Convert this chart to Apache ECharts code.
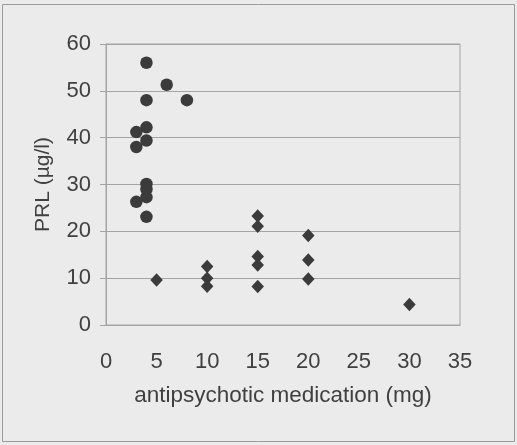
<!DOCTYPE html>
<html>
<head>
<meta charset="utf-8">
<script src="https://cdn.jsdelivr.net/npm/echarts@6/dist/echarts.min.js"></script>
<style>
  html, body { margin: 0; padding: 0; background: #ebebeb; }
  #chart { width: 517px; height: 445px; }
</style>
</head>
<body>
<div id="chart"></div>
<script>
// Group drawn with round markers: dose (mg) and PRL (µg/l)
const circleDose = [4, 6, 4, 8, 4, 3, 4, 3, 4, 4, 4, 3, 4];
const circlePRL  = [56, 51.3, 48, 48, 42.2, 41.2, 39.4, 38, 30.1, 29, 27.3, 26.3, 23.1];

// Group drawn with diamond markers
const diamondDose = [5, 10, 10, 10, 15, 15, 15, 15, 15, 20, 20, 20, 30];
const diamondPRL  = [9.6, 12.5, 10, 8.3, 23.3, 21.1, 14.6, 12.8, 8.2, 19.1, 13.9, 9.8, 4.4];

const xTicks = [0, 5, 10, 15, 20, 25, 30, 35];
const yTicks = [0, 10, 20, 30, 40, 50, 60];

const xTitle = 'antipsychotic medication (mg)';
const yTitle = 'PRL (µg/l)';

const pairs = (xs, ys) => xs.map((x, i) => [x, ys[i]]);

const font = 'Liberation Sans, Arial, sans-serif';
const textColor = '#404040';
const lineColor = '#a4a4a4';
const markColor = '#3b3b3b';

const chart = echarts.init(document.getElementById('chart'));
chart.setOption({
  backgroundColor: '#ebebeb',
  animation: false,
  graphic: [{
    type: 'rect',
    shape: { x: 2.5, y: 4.5, width: 512, height: 437 },
    style: { fill: 'none', stroke: '#9a9a9a', lineWidth: 1 },
    silent: true
  }],
  grid: { left: 106, right: 57, top: 44, bottom: 120, show: true,
          borderColor: lineColor, borderWidth: 1, backgroundColor: 'transparent' },
  xAxis: {
    type: 'value',
    min: xTicks[0], max: xTicks[xTicks.length - 1], interval: 5,
    name: xTitle, nameLocation: 'middle', nameGap: 59,
    nameTextStyle: { fontFamily: font, fontSize: 22.5, color: textColor },
    axisLine: { show: true, lineStyle: { color: lineColor } },
    axisTick: { show: false },
    splitLine: { show: false },
    axisLabel: { fontFamily: font, fontSize: 22, color: textColor, margin: 26 }
  },
  yAxis: {
    type: 'value',
    min: yTicks[0], max: yTicks[yTicks.length - 1], interval: 10,
    name: yTitle, nameLocation: 'middle', nameGap: 52,
    nameTextStyle: { fontFamily: font, fontSize: 21, color: textColor },
    axisLine: { show: true, lineStyle: { color: lineColor } },
    axisTick: { show: true, inside: false, length: 6, lineStyle: { color: lineColor } },
    splitLine: { show: true, lineStyle: { color: lineColor, width: 1 } },
    axisLabel: { fontFamily: font, fontSize: 22, color: textColor, margin: 15 }
  },
  series: [
    {
      type: 'scatter',
      data: pairs(circleDose, circlePRL),
      symbol: 'circle', symbolSize: 12.5,
      itemStyle: { color: markColor, opacity: 1 }
    },
    {
      type: 'scatter',
      data: pairs(diamondDose, diamondPRL),
      symbol: 'diamond', symbolSize: [12.5, 13.5],
      itemStyle: { color: markColor, opacity: 1 }
    }
  ]
});
</script>
</body>
</html>
